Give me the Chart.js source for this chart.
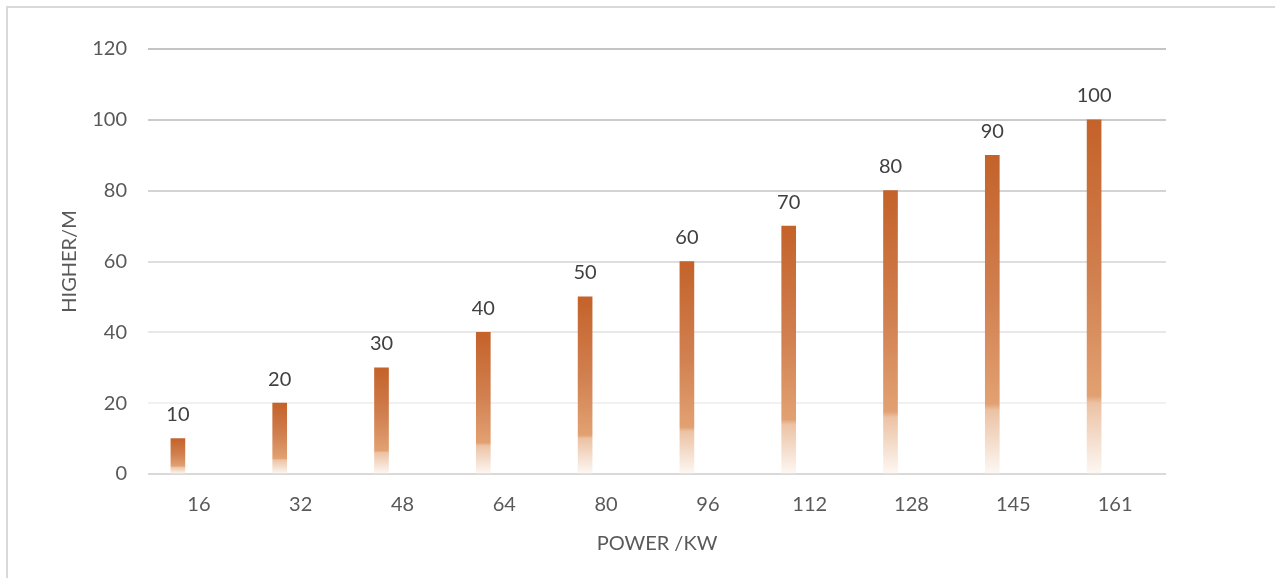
<!DOCTYPE html>
<html>
<head>
<meta charset="utf-8">
<title>Height by power</title>
<script src="https://cdn.jsdelivr.net/npm/chart.js@4/dist/chart.umd.min.js"></script>
<style>
  html, body { margin: 0; padding: 0; background: #ffffff; overflow: hidden; }
  #frame {
    position: absolute; left: 6px; top: 6px; width: 1400px; height: 700px;
    border-left: 2px solid #d9d9d9; border-top: 2px solid #d9d9d9;
  }
  #wrap { position: absolute; left: 0; top: 0; width: 1275px; height: 578px; }
</style>
</head>
<body>
<div id="frame"></div>
<div id="wrap"><canvas id="chart" width="1275" height="578"></canvas></div>
<script>
// Power ratings (kW) on the category axis
const powerKW = ['16', '32', '48', '64', '80', '96', '112', '128', '145', '161'];
// Lift height (m) for each power rating
const heightM = [10, 20, 30, 40, 50, 60, 70, 80, 90, 100];
// Unused series slots of the clustered layout (keep the bar offset within each category)
const spareSeriesA = [];
const spareSeriesB = [];
const spareSeriesC = [];
// Value axis range
const yMin = 0;
const yMax = 120;
const yStep = 20;

const FONT = 'Lato, "Open Sans", "Liberation Sans", sans-serif';
const TICK_COLOR = '#595959';
const LABEL_COLOR = '#404040';

// Gridlines lighten towards the baseline; the baseline itself is a mid grey
const gridShade = {120: '#c4c4c4', 100: '#cbcbcb', 80: '#d4d4d4', 60: '#dedede', 40: '#e8e8e8', 20: '#f1f1f1', 0: '#d9d9d9'};

// Vertical fade for each bar: burnt orange at the top, fading to white at the base
function barFill(ctx) {
  const chart = ctx.chart;
  const area = chart.chartArea;
  if (!area || ctx.raw == null) return '#c5622b';
  const y = chart.scales.y;
  const top = y.getPixelForValue(ctx.raw);
  const base = y.getPixelForValue(0);
  if (!(base > top)) return '#c5622b';
  const g = chart.ctx.createLinearGradient(0, top, 0, base);
  g.addColorStop(0, 'rgb(196,98,42)');
  g.addColorStop(0.45, 'rgb(209,128,80)');
  g.addColorStop(0.78, 'rgb(226,161,114)');
  g.addColorStop(0.80, 'rgb(236,194,164)');
  g.addColorStop(1, 'rgb(253,248,244)');
  return g;
}

// Value labels above the bars of the first series
const valueLabels = {
  id: 'valueLabels',
  afterDatasetsDraw(chart) {
    const meta = chart.getDatasetMeta(0);
    const ctx = chart.ctx;
    ctx.save();
    ctx.font = '20px ' + FONT;
    ctx.fillStyle = LABEL_COLOR;
    ctx.textAlign = 'center';
    ctx.textBaseline = 'middle';
    meta.data.forEach((bar, i) => {
      const v = chart.data.datasets[0].data[i];
      if (v == null) return;
      ctx.fillText(String(v), bar.x, bar.y - 24);
    });
    ctx.restore();
  }
};

function build() {
  new Chart(document.getElementById('chart'), {
    type: 'bar',
    data: {
      labels: powerKW,
      datasets: [
        { label: 'HIGHER/M', data: heightM, backgroundColor: barFill, borderWidth: 0 },
        { label: '', data: spareSeriesA },
        { label: '', data: spareSeriesB },
        { label: '', data: spareSeriesC }
      ]
    },
    options: {
      responsive: false,
      animation: false,
      devicePixelRatio: 1,
      layout: { padding: { left: 0, top: 49, right: 109, bottom: 0 } },
      datasets: { bar: { barThickness: 14 } },
      plugins: {
        legend: { display: false },
        tooltip: { enabled: false },
        title: { display: false }
      },
      scales: {
        x: {
          grid: { display: false, drawTicks: false },
          border: { display: false },
          ticks: { color: TICK_COLOR, font: { family: FONT, size: 20 }, padding: 19, maxRotation: 0 },
          title: {
            display: true, text: 'POWER /KW', color: TICK_COLOR,
            font: { family: FONT, size: 20 }, padding: { top: 0, bottom: 22 }
          },
          afterFit(scale) { scale.height = 104; }
        },
        y: {
          min: yMin, max: yMax,
          border: { display: false },
          grid: {
            drawTicks: false,
            lineWidth: 2,
            color: (c) => gridShade[c.tick ? c.tick.value : 0] || '#e0e0e0'
          },
          ticks: { stepSize: yStep, color: TICK_COLOR, font: { family: FONT, size: 20 }, padding: 21 },
          title: {
            display: true, text: 'HIGHER/M', color: TICK_COLOR,
            font: { family: FONT, size: 20 }, padding: { top: 58, bottom: 0 }
          },
          afterFit(scale) { scale.width = 148; }
        }
      }
    },
    plugins: [valueLabels]
  });
}

if (document.fonts && document.fonts.load) {
  Promise.all([document.fonts.load('20px Lato')]).then(build, build);
} else {
  build();
}
</script>
</body>
</html>
